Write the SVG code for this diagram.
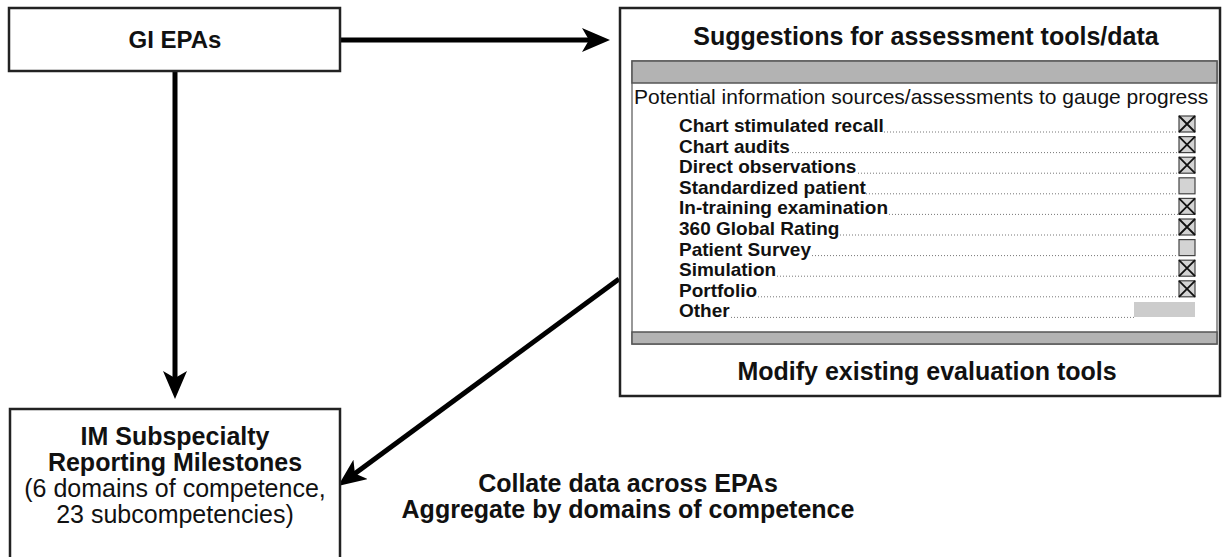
<svg xmlns="http://www.w3.org/2000/svg" width="1223" height="557" viewBox="0 0 1223 557">
<style>
.box{fill:#fff;stroke:#222;stroke-width:2.5}
.t{font-family:"Liberation Sans",Arial,sans-serif;fill:#111}
.b{font-weight:bold}
.big{font-size:25px}
.item{font-size:19px;font-weight:bold}
.conn{stroke:#000;stroke-width:5;fill:none}
.bar{fill:#b3b3b3;stroke:#555;stroke-width:1.5}
.lead{stroke:#777;stroke-width:1;stroke-dasharray:1 2}
.cb{fill:#d3d3d3;stroke:#444;stroke-width:1.2}
.x{stroke:#111;stroke-width:1.8}
</style>
<defs>
<marker id="ah" markerUnits="userSpaceOnUse" viewBox="0 0 28 24" markerWidth="28" markerHeight="24" refX="9" refY="12" orient="auto">
<path d="M0,0 L28,12 L0,24 L7,12 Z" fill="#000"/>
</marker>
</defs>
<g id="connectors">
<line class="conn" x1="340" y1="40" x2="591" y2="40" marker-end="url(#ah)"/>
<line class="conn" x1="175" y1="71" x2="175" y2="380" marker-end="url(#ah)"/>
<line class="conn" x1="619" y1="279" x2="353.3" y2="474.7" marker-end="url(#ah)"/>
</g>
<g id="gi-epas">
<rect class="box" x="9" y="8" width="331" height="63"/>
<text class="t b" x="175" y="48" text-anchor="middle" font-size="24">GI EPAs</text>
</g>
<g id="suggestions">
<rect class="box" x="620" y="8" width="600" height="388"/>
<text class="t b big" x="926" y="45" text-anchor="middle">Suggestions for assessment tools/data</text>
<rect x="632" y="61" width="585" height="283" fill="#fff" stroke="#777" stroke-width="1.5"/>
<rect class="bar" x="632" y="61" width="585" height="22"/>
<rect class="bar" x="632" y="332" width="585" height="12"/>
<text class="t" x="634" y="104" font-size="21">Potential information sources/assessments to gauge progress</text>
<g class="t item">
<text x="679" y="132">Chart stimulated recall</text>
<text x="679" y="152.6">Chart audits</text>
<text x="679" y="173.2">Direct observations</text>
<text x="679" y="193.8">Standardized patient</text>
<text x="679" y="214.4">In-training examination</text>
<text x="679" y="235">360 Global Rating</text>
<text x="679" y="255.6">Patient Survey</text>
<text x="679" y="276.2">Simulation</text>
<text x="679" y="296.8">Portfolio</text>
<text x="679" y="317.4">Other</text>
</g>
<g>
<line class="lead" x1="884" y1="132" x2="1178" y2="132"/>
<line class="lead" x1="792" y1="152.6" x2="1178" y2="152.6"/>
<line class="lead" x1="858" y1="173.2" x2="1178" y2="173.2"/>
<line class="lead" x1="866" y1="193.8" x2="1178" y2="193.8"/>
<line class="lead" x1="889" y1="214.4" x2="1178" y2="214.4"/>
<line class="lead" x1="840" y1="235" x2="1178" y2="235"/>
<line class="lead" x1="812" y1="255.6" x2="1178" y2="255.6"/>
<line class="lead" x1="777" y1="276.2" x2="1178" y2="276.2"/>
<line class="lead" x1="758" y1="296.8" x2="1178" y2="296.8"/>
<line class="lead" x1="731" y1="317.4" x2="1134" y2="317.4"/>
</g>
<g>
<rect class="cb" x="1179" y="116" width="16" height="16"/><path class="x" d="M1179,116 L1195,132 M1195,116 L1179,132"/>
<rect class="cb" x="1179" y="136.6" width="16" height="16"/><path class="x" d="M1179,136.6 L1195,152.6 M1195,136.6 L1179,152.6"/>
<rect class="cb" x="1179" y="157.2" width="16" height="16"/><path class="x" d="M1179,157.2 L1195,173.2 M1195,157.2 L1179,173.2"/>
<rect class="cb" x="1179" y="177.8" width="16" height="16"/>
<rect class="cb" x="1179" y="198.4" width="16" height="16"/><path class="x" d="M1179,198.4 L1195,214.4 M1195,198.4 L1179,214.4"/>
<rect class="cb" x="1179" y="219" width="16" height="16"/><path class="x" d="M1179,219 L1195,235 M1195,219 L1179,235"/>
<rect class="cb" x="1179" y="239.6" width="16" height="16"/>
<rect class="cb" x="1179" y="260.2" width="16" height="16"/><path class="x" d="M1179,260.2 L1195,276.2 M1195,260.2 L1179,276.2"/>
<rect class="cb" x="1179" y="280.8" width="16" height="16"/><path class="x" d="M1179,280.8 L1195,296.8 M1195,280.8 L1179,296.8"/>
<rect x="1134" y="302" width="61" height="15" fill="#cccccc"/>
</g>
<text class="t b big" x="927" y="380" text-anchor="middle">Modify existing evaluation tools</text>
</g>
<g id="milestones">
<rect class="box" x="10" y="409" width="330" height="160"/>
<text class="t b big" x="175" y="445" text-anchor="middle">IM Subspecialty</text>
<text class="t b big" x="175" y="471" text-anchor="middle">Reporting Milestones</text>
<text class="t big" x="175" y="497" text-anchor="middle">(6 domains of competence,</text>
<text class="t big" x="175" y="523" text-anchor="middle">23 subcompetencies)</text>
</g>
<g id="collate-label">
<text class="t b big" x="628" y="492" text-anchor="middle">Collate data across EPAs</text>
<text class="t b big" x="628" y="518" text-anchor="middle">Aggregate by domains of competence</text>
</g>
</svg>
